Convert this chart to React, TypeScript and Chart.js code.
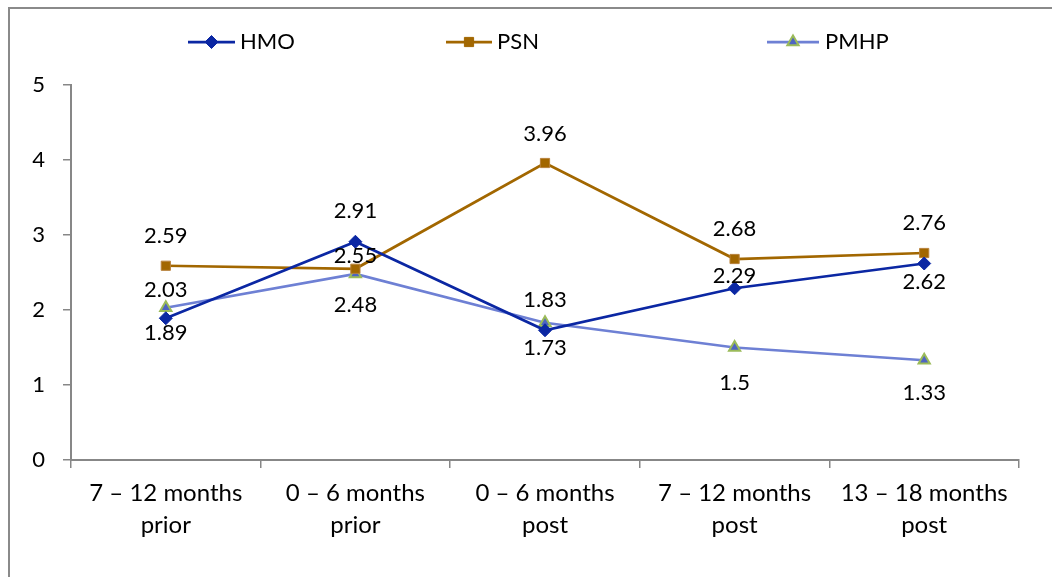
import React, { useEffect, useRef } from "react";
import { Chart, registerables } from "chart.js";
import { drawPoint } from "chart.js/helpers";

Chart.register(...registerables);

// Periods on the horizontal axis (two-line labels)
const periods: string[][] = [
  ["7 – 12 months", "prior"],
  ["0 – 6 months", "prior"],
  ["0 – 6 months", "post"],
  ["7 – 12 months", "post"],
  ["13 – 18 months", "post"],
];

// Series values
const hmoValues = [1.89, 2.91, 1.73, 2.29, 2.62];
const psnValues = [2.59, 2.55, 3.96, 2.68, 2.76];
const pmhpValues = [2.03, 2.48, 1.83, 1.5, 1.33];

const yTicks = [0, 1, 2, 3, 4, 5];

// Vertical offset (px) of each value label from its point
const hmoLabelOffsets = [15, -31, 18, -12, 18];
const psnLabelOffsets = [-30, -13, -29, -30, -30];
const pmhpLabelOffsets = [-18, 31, -23, 35, 33];

const FONT = "Lato, 'Noto Sans', sans-serif";
const AXIS_GRAY = "#878787";

const HMO_COLOR = "#0B27A3";
const PSN_COLOR = "#A26700";
const PMHP_LINE = "#6E80D4";
const PMHP_FILL = "#4E64C2";
const PMHP_EDGE = "#9BBB59";

type LegendEntry = {
  text: string;
  x0: number;
  x1: number;
  textX: number;
  style: string;
  line: string;
  fill: string;
  edge: string;
  radius: number;
};

const legendEntries: LegendEntry[] = [
  { text: "HMO", x0: 188, x1: 235, textX: 240, style: "rectRot", line: HMO_COLOR, fill: HMO_COLOR, edge: HMO_COLOR, radius: 6.5 },
  { text: "PSN", x0: 446, x1: 492, textX: 497, style: "rect", line: PSN_COLOR, fill: PSN_COLOR, edge: PSN_COLOR, radius: 6.5 },
  { text: "PMHP", x0: 767, x1: 819, textX: 825, style: "triangle", line: PMHP_LINE, fill: PMHP_FILL, edge: PMHP_EDGE, radius: 6.5 },
];

const legendPlugin = {
  id: "lineLegend",
  afterDraw(chart: any) {
    const ctx = chart.ctx as CanvasRenderingContext2D;
    const y = 42;
    ctx.save();
    legendEntries.forEach((e) => {
      ctx.strokeStyle = e.line;
      ctx.lineWidth = 2.75;
      ctx.beginPath();
      ctx.moveTo(e.x0, y);
      ctx.lineTo(e.x1, y);
      ctx.stroke();
      ctx.fillStyle = e.fill;
      ctx.strokeStyle = e.edge;
      ctx.lineWidth = e.style === "triangle" ? 2 : 1;
      drawPoint(
        ctx,
        { pointStyle: e.style, radius: e.radius, borderWidth: ctx.lineWidth, rotation: 0 } as any,
        (e.x0 + e.x1) / 2,
        y
      );
      ctx.fillStyle = "#000";
      ctx.font = `22px ${FONT}`;
      ctx.textAlign = "left";
      ctx.textBaseline = "middle";
      ctx.fillText(e.text, e.textX, y);
    });
    ctx.restore();
  },
};

const offsetsBySeries = [hmoLabelOffsets, psnLabelOffsets, pmhpLabelOffsets];

const valueLabelPlugin = {
  id: "valueLabels",
  afterDatasetsDraw(chart: any) {
    const ctx = chart.ctx as CanvasRenderingContext2D;
    ctx.save();
    ctx.fillStyle = "#000";
    ctx.font = `22px ${FONT}`;
    ctx.textAlign = "center";
    ctx.textBaseline = "middle";
    chart.data.datasets.forEach((ds: any, di: number) => {
      const meta = chart.getDatasetMeta(di);
      meta.data.forEach((pt: any, i: number) => {
        const v = ds.data[i];
        ctx.fillText(String(v), pt.x, pt.y + offsetsBySeries[di][i]);
      });
    });
    ctx.restore();
  },
};

export default function App() {
  const canvasRef = useRef<HTMLCanvasElement | null>(null);

  useEffect(() => {
    if (!canvasRef.current) return;
    const chart = new Chart(canvasRef.current, {
      type: "line",
      data: {
        labels: periods,
        datasets: [
          {
            label: "HMO",
            data: hmoValues,
            borderColor: HMO_COLOR,
            backgroundColor: HMO_COLOR,
            borderWidth: 2.75,
            pointStyle: "rectRot",
            pointRadius: 6.5,
            pointBorderWidth: 1,
            pointBorderColor: HMO_COLOR,
            pointBackgroundColor: HMO_COLOR,
            tension: 0,
          },
          {
            label: "PSN",
            data: psnValues,
            borderColor: PSN_COLOR,
            backgroundColor: PSN_COLOR,
            borderWidth: 2.75,
            pointStyle: "rect",
            pointRadius: 6.5,
            pointBorderWidth: 1,
            pointBorderColor: "#B8813A",
            pointBackgroundColor: PSN_COLOR,
            tension: 0,
          },
          {
            label: "PMHP",
            data: pmhpValues,
            borderColor: PMHP_LINE,
            backgroundColor: PMHP_FILL,
            borderWidth: 2.75,
            pointStyle: "triangle",
            pointRadius: 6.5,
            pointBorderWidth: 2,
            pointBorderColor: PMHP_EDGE,
            pointBackgroundColor: PMHP_FILL,
            tension: 0,
          },
        ],
      },
      options: {
        animation: false,
        responsive: true,
        maintainAspectRatio: false,
        layout: { padding: { top: 85, left: 0, right: 33, bottom: 0 } },
        plugins: {
          legend: { display: false },
          tooltip: { enabled: false },
        },
        scales: {
          x: {
            type: "category",
            offset: true,
            grid: {
              offset: true,
              drawOnChartArea: false,
              drawTicks: true,
              tickLength: 8,
              color: AXIS_GRAY,
              lineWidth: 1.5,
            },
            border: { display: true, color: AXIS_GRAY, width: 2 },
            ticks: {
              color: "#000",
              font: { family: FONT, size: 24, lineHeight: 1.3 },
              padding: 10,
              maxRotation: 0,
              autoSkip: false,
            },
            afterFit(scale: any) {
              scale.height = 117;
            },
          },
          y: {
            min: 0,
            max: 5,
            afterBuildTicks(scale: any) {
              scale.ticks = yTicks.map((v) => ({ value: v }));
            },
            grid: {
              drawOnChartArea: false,
              drawTicks: true,
              tickLength: 8,
              color: AXIS_GRAY,
              lineWidth: 1.5,
            },
            border: { display: true, color: AXIS_GRAY, width: 2 },
            ticks: {
              color: "#000",
              font: { family: FONT, size: 22 },
              padding: 18,
            },
            afterFit(scale: any) {
              scale.width = 71;
            },
          },
        },
      },
      plugins: [legendPlugin, valueLabelPlugin],
    });
    return () => chart.destroy();
  }, []);

  return (
    <div style={{ position: "fixed", left: 0, top: 0, width: 1052, height: 577, background: "#fff" }}>
      <div
        style={{
          position: "absolute",
          left: 8,
          top: 7,
          right: 0,
          bottom: 0,
          borderTop: "2px solid #8A8A8A",
          borderLeft: "2px solid #8A8A8A",
        }}
      />
      <canvas ref={canvasRef} style={{ position: "absolute", left: 0, top: 0, width: 1052, height: 577 }} />
    </div>
  );
}
